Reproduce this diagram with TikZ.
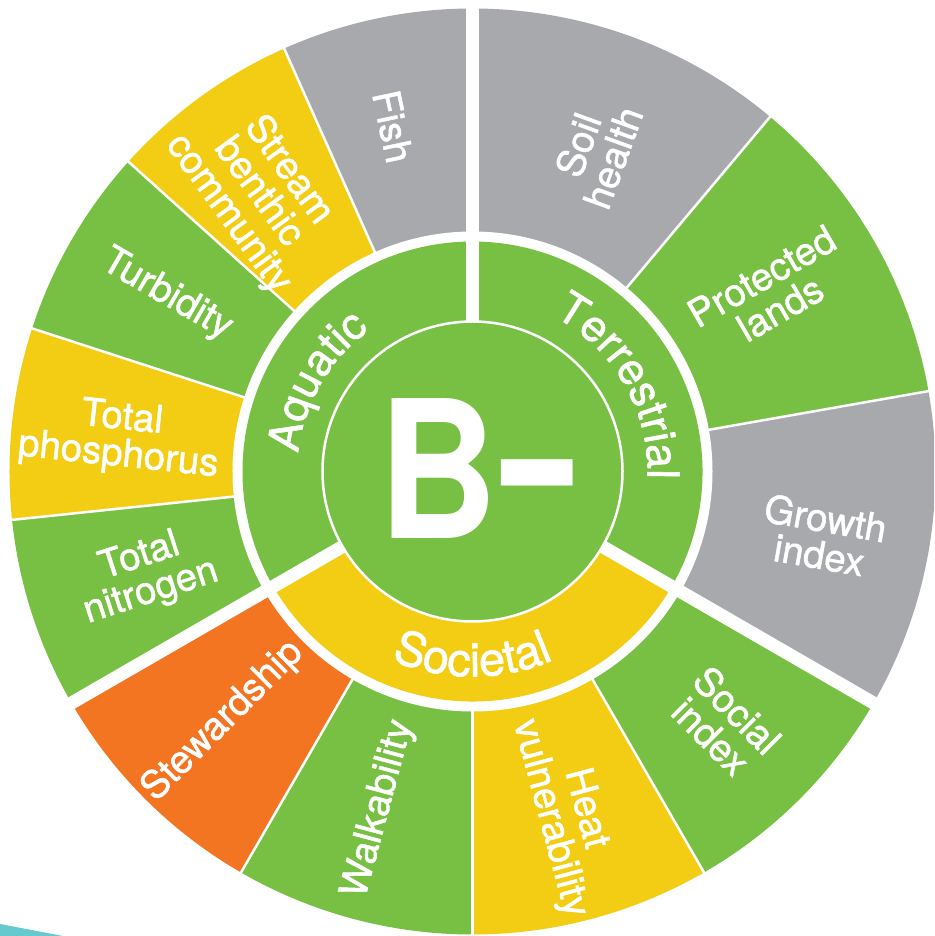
\documentclass[tikz,border=0pt]{standalone}
\usepackage{fontspec}
\setmainfont{TeX Gyre Heros}
\newfontfamily\medfont[FakeBold=1.3]{TeX Gyre Heros}
\usetikzlibrary{decorations.text}

\definecolor{wgreen}{HTML}{77C043}
\definecolor{wyellow}{HTML}{F2CD14}
\definecolor{wgray}{HTML}{A7A9AC}
\definecolor{worange}{HTML}{F37421}
\definecolor{wteal}{HTML}{66C9CD}

\newcommand\catfont{\medfont\fontsize{44}{44}\selectfont\color{white}}
\newcommand\socfont{\medfont\fontsize{47}{47}\selectfont\color{white}}

\begin{document}
\begin{tikzpicture}[x=1pt,y=1pt,
  seglabel/.style={text=white, align=center, inner sep=0pt,
    font=\medfont\fontsize{38.5}{37}\selectfont},
  thinsep/.style={draw=white, line width=2.5pt},
  thicksep/.style={draw=white, line width=13pt},
  catpath/.style={decorate, decoration={text along path,
    text align=center, text={|\catfont|#1}}},
  socpath/.style={decorate, decoration={text along path,
    text align=center, text={|\socfont|#1}}},
]
\useasboundingbox (-472.5,-464.5) rectangle (461.5,471.5);
\clip (-472.5,-464.5) rectangle (461.5,471.5);

% teal swoosh in the lower left corner
\fill[wteal] (-472.5,-452.5) -- (-409.5,-464.5) -- (-472.5,-464.5) -- cycle;

% outer ring: one wedge per indicator
\foreach \a/\b/\c in {90/114/wgray, 114/138/wyellow, 138/162/wgreen,
    162/186/wyellow, 186/210/wgreen,
    210/240/worange, 240/270/wgreen, 270/300/wyellow, 300/330/wgreen,
    330/370/wgray, 10/50/wgreen, 50/90/wgray}
  \fill[\c] (0,0) -- (\a:463pt) arc[start angle=\a, end angle=\b, radius=463pt] -- cycle;

% white gap between the rings
\fill[white] (0,0) circle[radius=240pt];

% middle ring: the three categories
\fill[wgreen] (0,0) -- (90:230pt) arc[start angle=90, end angle=210, radius=230pt] -- cycle;
\fill[wyellow] (0,0) -- (210:230pt) arc[start angle=210, end angle=330, radius=230pt] -- cycle;
\fill[wgreen] (0,0) -- (-30:230pt) arc[start angle=-30, end angle=90, radius=230pt] -- cycle;

% core disc with its thin white rim
\fill[wgreen] (0,0) circle[radius=150pt];
\draw[white, line width=2.5pt] (0,0) circle[radius=150pt];

% thin separators inside each category
\foreach \a in {114,138,162,186,240,270,300,10,50}
  \draw[thinsep] (\a:238pt) -- (\a:475pt);

% thick separators between categories
\foreach \a in {90,210,330}
  \draw[thicksep] (\a:150pt) -- (\a:480pt);

% category names along the middle ring
\path[catpath=Aquatic] (210:175pt) arc[start angle=210, end angle=90, radius=175pt];
\path[catpath=Terrestrial] (90:175pt) arc[start angle=90, end angle=-30, radius=175pt];
\path[socpath=Societal] (210:205pt) arc[start angle=210, end angle=330, radius=205pt];

% overall grade
\node[text=white, font=\bfseries\fontsize{192}{192}\selectfont,
  inner sep=0pt] (grade) at (3,2.5)
  {\scalebox{0.86}[1]{B}\kern5pt\scalebox{0.66}[1.32]{–}};

% indicator labels
\node[seglabel, rotate=-78] (fish) at (103:354pt) {Fish};
\node[seglabel, rotate=-54] (stream) at (127.5:352pt) {Stream\\benthic\\community};
\node[seglabel, rotate=-30] (turb) at (150:353pt) {Turbidity};
\node[seglabel, rotate=-6] (phos) at (174.5:354pt) {Total\\phosphorus};
\node[seglabel, rotate=18] (nitro) at (197.5:343pt) {Total\\nitrogen};
\node[seglabel, rotate=45] (stew) at (225:353pt) {Stewardship};
\node[seglabel, rotate=75] (walk) at (254.5:350pt) {Walkability};
\node[seglabel, rotate=-75] (heat) at (285.5:355pt) {Heat\\vulnerability};
\node[seglabel, rotate=-45] (social) at (315:356pt) {Social\\index};
\node[seglabel, rotate=-10] (growth) at (349.5:356pt) {Growth\\index};
\node[seglabel, rotate=30] (prot) at (31:348pt) {Protected\\lands};
\node[seglabel, rotate=70] (soil) at (69:343pt) {Soil\\health};
\end{tikzpicture}
\end{document}
